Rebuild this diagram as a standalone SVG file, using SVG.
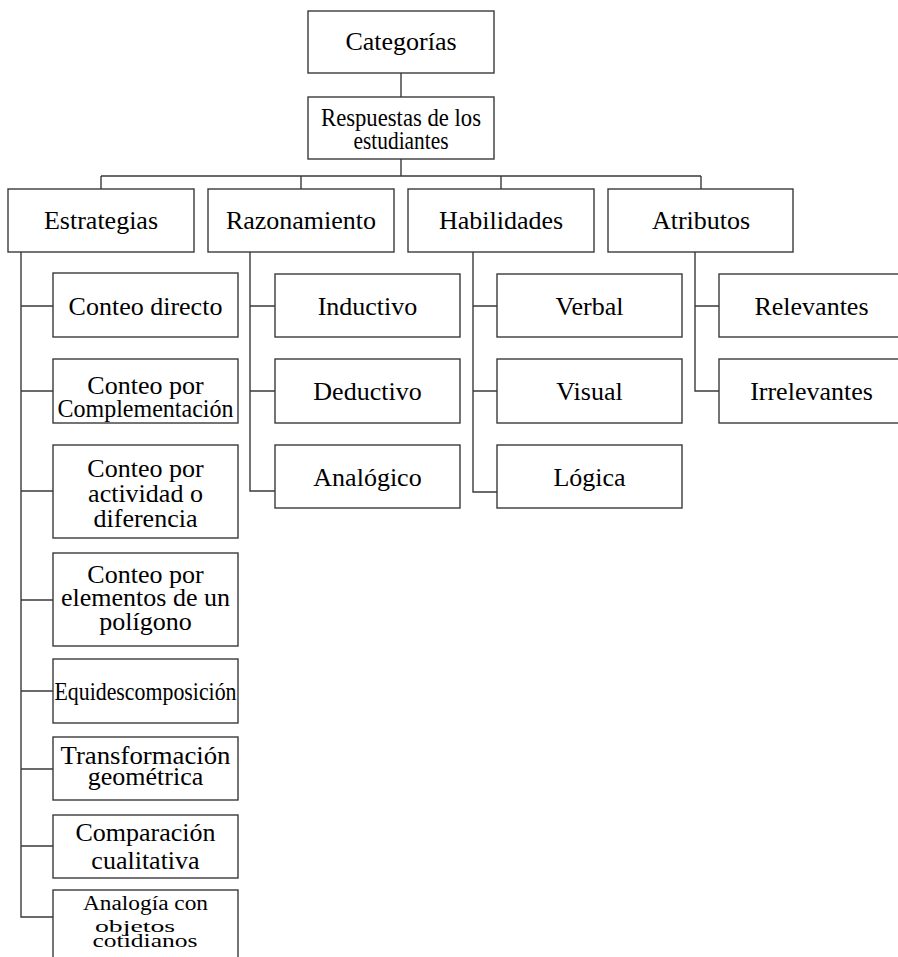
<svg xmlns="http://www.w3.org/2000/svg" width="898" height="957" viewBox="0 0 898 957">
<style>
.b{fill:#fff;stroke:#3a3a3a;stroke-width:1.4}
.c{fill:none;stroke:#3a3a3a;stroke-width:1.4}
text{font-family:"Liberation Serif","Times New Roman",serif;font-size:26px;fill:#000;text-anchor:middle}
</style>
<rect width="898" height="957" fill="#fff"/>
<g id="connectors" class="c">
<path d="M401 73V97M401 159V176M101 176H701M101 176V189M301 176V189M501 176V189M701 176V189"/>
<path d="M21 252V917H53M21 306H53M21 391H53M21 491H53M21 600H53M21 691H53M21 769H53M21 846H53"/>
<path d="M250 252V491H275M250 306H275M250 391H275"/>
<path d="M473 252V492H497M473 306H497M473 391H497"/>
<path d="M695 252V391H719M695 306H719"/>
</g>
<g id="n-categorias"><rect class="b" x="308" y="11" width="186" height="62"/><text x="401" y="50">Categorías</text></g>
<g id="n-respuestas"><rect class="b" x="308" y="97" width="186" height="62"/><text x="401" y="126" textLength="160" lengthAdjust="spacingAndGlyphs">Respuestas de los</text><text x="401" y="149" textLength="95" lengthAdjust="spacingAndGlyphs">estudiantes</text></g>
<g id="n-estrategias"><rect class="b" x="8" y="189" width="186" height="63"/><text x="101" y="229">Estrategias</text></g>
<g id="n-razonamiento"><rect class="b" x="208" y="189" width="186" height="63"/><text x="301" y="229">Razonamiento</text></g>
<g id="n-habilidades"><rect class="b" x="408" y="189" width="186" height="63"/><text x="501" y="229">Habilidades</text></g>
<g id="n-atributos"><rect class="b" x="608" y="189" width="185" height="63"/><text x="701" y="229">Atributos</text></g>
<g id="n-conteo-directo"><rect class="b" x="53" y="273" width="185" height="64"/><text x="145.5" y="315">Conteo directo</text></g>
<g id="n-complementacion"><rect class="b" x="53" y="359" width="185" height="64"/><text x="145.5" y="394">Conteo por</text><text x="145.5" y="417" textLength="176" lengthAdjust="spacingAndGlyphs">Complementación</text></g>
<g id="n-actividad"><rect class="b" x="53" y="445" width="185" height="93"/><text x="145.5" y="477">Conteo por</text><text x="145.5" y="502">actividad o</text><text x="145.5" y="527">diferencia</text></g>
<g id="n-elementos"><rect class="b" x="53" y="553" width="185" height="93"/><text x="145.5" y="583">Conteo por</text><text x="145.5" y="606">elementos de un</text><text x="145.5" y="630">polígono</text></g>
<g id="n-equidescomposicion"><rect class="b" x="53" y="659" width="185" height="64"/><text x="145.5" y="700" textLength="182" lengthAdjust="spacingAndGlyphs">Equidescomposición</text></g>
<g id="n-transformacion"><rect class="b" x="53" y="737" width="185" height="63"/><text x="145.5" y="764" textLength="170" lengthAdjust="spacingAndGlyphs">Transformación</text><text x="145.5" y="785">geométrica</text></g>
<g id="n-comparacion"><rect class="b" x="53" y="815" width="185" height="63"/><text x="145.5" y="841">Comparación</text><text x="145.5" y="869">cualitativa</text></g>
<g id="n-analogia"><rect class="b" x="53" y="890" width="185" height="80"/><text transform="translate(145.5 910) scale(1 0.8)" textLength="125" lengthAdjust="spacingAndGlyphs">Analogía con</text><text transform="translate(135 932) scale(1 0.65)" textLength="80" lengthAdjust="spacingAndGlyphs">objetos</text><text transform="translate(145 947) scale(1 0.72)" textLength="105" lengthAdjust="spacingAndGlyphs">cotidianos</text></g>
<g id="n-inductivo"><rect class="b" x="275" y="274" width="185" height="63"/><text x="367.5" y="315">Inductivo</text></g>
<g id="n-deductivo"><rect class="b" x="275" y="359" width="185" height="64"/><text x="367.5" y="400">Deductivo</text></g>
<g id="n-analogico"><rect class="b" x="275" y="445" width="185" height="63"/><text x="367.5" y="486">Analógico</text></g>
<g id="n-verbal"><rect class="b" x="497" y="274" width="185" height="63"/><text x="589.5" y="315">Verbal</text></g>
<g id="n-visual"><rect class="b" x="497" y="359" width="185" height="64"/><text x="589.5" y="400">Visual</text></g>
<g id="n-logica"><rect class="b" x="497" y="445" width="185" height="63"/><text x="589.5" y="486">Lógica</text></g>
<g id="n-relevantes"><rect class="b" x="719" y="274" width="186" height="63"/><text x="811.5" y="315">Relevantes</text></g>
<g id="n-irrelevantes"><rect class="b" x="719" y="359" width="186" height="64"/><text x="811.5" y="400">Irrelevantes</text></g>
</svg>
